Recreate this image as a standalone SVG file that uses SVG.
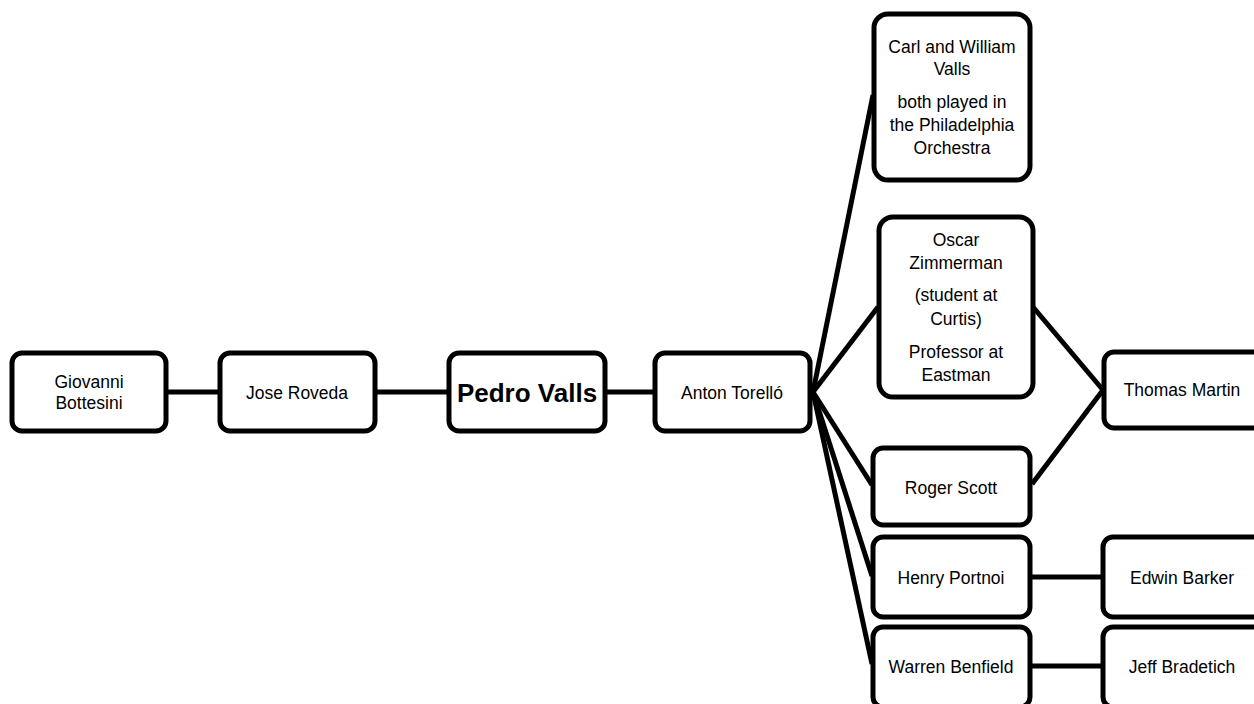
<svg xmlns="http://www.w3.org/2000/svg" width="1254" height="704" viewBox="0 0 1254 704">
<style>
.box{fill:#fff;stroke:#000;stroke-width:5}
.t{font-family:"Liberation Sans",Arial,sans-serif;font-size:17.5px;fill:#000;text-anchor:middle}
.b{font-family:"Liberation Sans",Arial,sans-serif;font-size:26px;font-weight:bold;fill:#000;text-anchor:middle}
.c{stroke:#000;stroke-width:5;fill:none}
</style>
<rect width="1254" height="704" fill="#fff"/>
<g id="connectors">
<line class="c" x1="166" y1="392" x2="218" y2="392"/>
<line class="c" x1="375" y1="392" x2="448" y2="392"/>
<line class="c" x1="605" y1="392" x2="653" y2="392"/>
<line class="c" x1="813" y1="392" x2="873" y2="95"/>
<line class="c" x1="813" y1="392" x2="878" y2="307"/>
<line class="c" x1="813" y1="392" x2="872" y2="485"/>
<line class="c" x1="813" y1="392" x2="872" y2="576"/>
<line class="c" x1="813" y1="392" x2="872" y2="664"/>
<line class="c" x1="1033" y1="307" x2="1103" y2="390"/>
<line class="c" x1="1032" y1="484" x2="1103" y2="390"/>
<line class="c" x1="1030" y1="577" x2="1102" y2="577"/>
<line class="c" x1="1030" y1="666" x2="1102" y2="666"/>
</g>
<g id="n-giovanni"><rect class="box" x="12" y="353" width="154" height="78" rx="10"/>
<text class="t" x="89" y="388">Giovanni</text><text class="t" x="89" y="409">Bottesini</text></g>
<g id="n-jose"><rect class="box" x="220" y="353" width="155" height="78" rx="10"/>
<text class="t" x="297" y="399">Jose Roveda</text></g>
<g id="n-pedro"><rect class="box" x="449" y="353" width="156" height="78" rx="10"/>
<text class="b" x="527" y="402">Pedro Valls</text></g>
<g id="n-anton"><rect class="box" x="655" y="353" width="155" height="78" rx="10"/>
<text class="t" x="732" y="399">Anton Torelló</text></g>
<g id="n-carl"><rect class="box" x="874" y="14" width="156" height="166" rx="14"/>
<text class="t" x="952" y="53">Carl and William</text><text class="t" x="952" y="75">Valls</text>
<text class="t" x="952" y="108">both played in</text><text class="t" x="952" y="131">the Philadelphia</text><text class="t" x="952" y="154">Orchestra</text></g>
<g id="n-oscar"><rect class="box" x="879" y="217" width="154" height="180" rx="14"/>
<text class="t" x="956" y="246">Oscar</text><text class="t" x="956" y="269">Zimmerman</text>
<text class="t" x="956" y="301">(student at</text><text class="t" x="956" y="325">Curtis)</text>
<text class="t" x="956" y="358">Professor at</text><text class="t" x="956" y="381">Eastman</text></g>
<g id="n-thomas"><rect class="box" x="1104" y="352" width="160" height="76" rx="10"/>
<text class="t" x="1182" y="396">Thomas Martin</text></g>
<g id="n-roger"><rect class="box" x="873" y="448" width="157" height="77" rx="10"/>
<text class="t" x="951" y="494">Roger Scott</text></g>
<g id="n-henry"><rect class="box" x="873" y="537" width="157" height="80" rx="10"/>
<text class="t" x="951" y="584">Henry Portnoi</text></g>
<g id="n-edwin"><rect class="box" x="1103" y="537" width="160" height="80" rx="10"/>
<text class="t" x="1182" y="584">Edwin Barker</text></g>
<g id="n-warren"><rect class="box" x="873" y="627" width="157" height="80" rx="10"/>
<text class="t" x="951" y="673">Warren Benfield</text></g>
<g id="n-jeff"><rect class="box" x="1103" y="627" width="160" height="80" rx="10"/>
<text class="t" x="1182" y="673">Jeff Bradetich</text></g>
</svg>
